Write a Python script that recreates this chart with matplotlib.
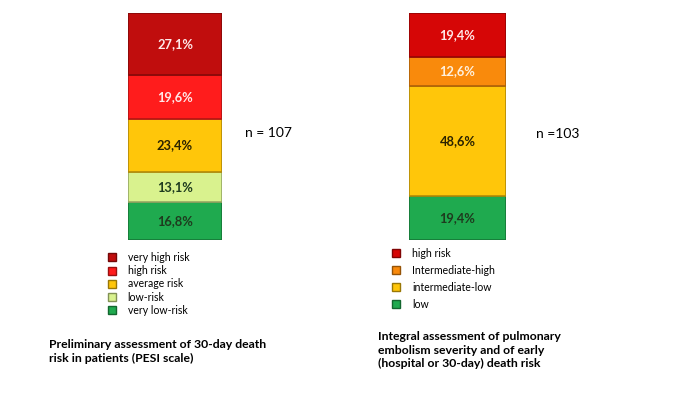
import matplotlib
matplotlib.use("Agg")
import matplotlib.pyplot as plt
from matplotlib.patches import Patch

plt.rcParams['font.family'] = ['Lato', 'DejaVu Sans']

# Data (bottom to top)
left_labels = ["very low-risk", "low-risk", "average risk", "high risk", "very high risk"]
left_values = [16.8, 13.1, 23.4, 19.6, 27.1]
left_colors = ["#1faa4f", "#d9f28e", "#ffc60a", "#ff1c1c", "#c00d0d"]
left_text_colors = ["#1e3a1e", "#1e3a1e", "#2a2200", "#ffe8e8", "#ffe8e8"]
left_n = "n = 107"
left_caption = "Preliminary assessment of 30-day death\nrisk in patients (PESI scale)"

right_labels = ["low", "intermediate-low", "Intermediate-high", "high risk"]
right_values = [19.4, 48.6, 12.6, 19.4]
right_colors = ["#1faa4f", "#ffc60a", "#f98a0c", "#d60606"]
right_text_colors = ["#1e3a1e", "#2a2200", "#fff0dd", "#ffe8e8"]
right_n = "n =103"
right_caption = "Integral assessment of pulmonary\nembolism severity and of early\n(hospital or 30-day) death risk"

W, H = 694, 398
fig = plt.figure(figsize=(W / 100, H / 100), dpi=100)
fig.patch.set_facecolor("white")


def darker(c, f=0.75):
    r, g, b = matplotlib.colors.to_rgb(c)
    return (r * f, g * f, b * f)


def stack(ax, values, colors, tcolors):
    bottom = 0
    for v, c, tc in zip(values, colors, tcolors):
        ax.bar(0, v, bottom=bottom, width=1.0, color=c, edgecolor=darker(c, 0.7),
               linewidth=1.2)
        ax.text(0, bottom + v / 2, f"{v:.1f}".replace(".", ",") + "%", ha="center",
                va="center", fontsize=9.3, fontweight="bold", color=tc)
        bottom += v
    ax.set_xlim(-0.5, 0.5)
    ax.set_ylim(0, 100)
    ax.axis("off")


def px_axes(x0, y0, x1, y1):
    return fig.add_axes([x0 / W, 1 - y1 / H, (x1 - x0) / W, (y1 - y0) / H])


axL = px_axes(128, 13, 222, 240)
stack(axL, left_values, left_colors, left_text_colors)
axR = px_axes(409, 13, 506, 240)
stack(axR, right_values, right_colors, right_text_colors)

fig.text(245 / W, 1 - 133 / H, left_n, fontsize=10, va="center", ha="left")
fig.text(536 / W, 1 - 134 / H, right_n, fontsize=10, va="center", ha="left")

# legends (top to bottom order)
hl = [Patch(facecolor=c, edgecolor=darker(c, 0.6)) for c in left_colors[::-1]]
legL = fig.legend(hl, left_labels[::-1], loc="upper left",
                  bbox_to_anchor=(108 / W, 1 - 252 / H), frameon=False,
                  fontsize=7.6, handlelength=0.8, handleheight=0.8,
                  handletextpad=1.05, labelspacing=0.21, borderpad=0, borderaxespad=0)
hr = [Patch(facecolor=c, edgecolor=darker(c, 0.6)) for c in right_colors[::-1]]
legR = fig.legend(hr, right_labels[::-1], loc="upper left",
                  bbox_to_anchor=(392 / W, 1 - 248 / H), frameon=False,
                  fontsize=7.6, handlelength=0.8, handleheight=0.8,
                  handletextpad=1.1, labelspacing=0.56, borderpad=0, borderaxespad=0)

fig.text(49 / W, 1 - 339 / H, left_caption, fontsize=8.8, fontweight="bold",
         va="top", ha="left", linespacing=1.3)
fig.text(378 / W, 1 - 331 / H, right_caption, fontsize=8.8, fontweight="bold",
         va="top", ha="left", linespacing=1.3)

fig.savefig("out.png", dpi=100, facecolor="white")
